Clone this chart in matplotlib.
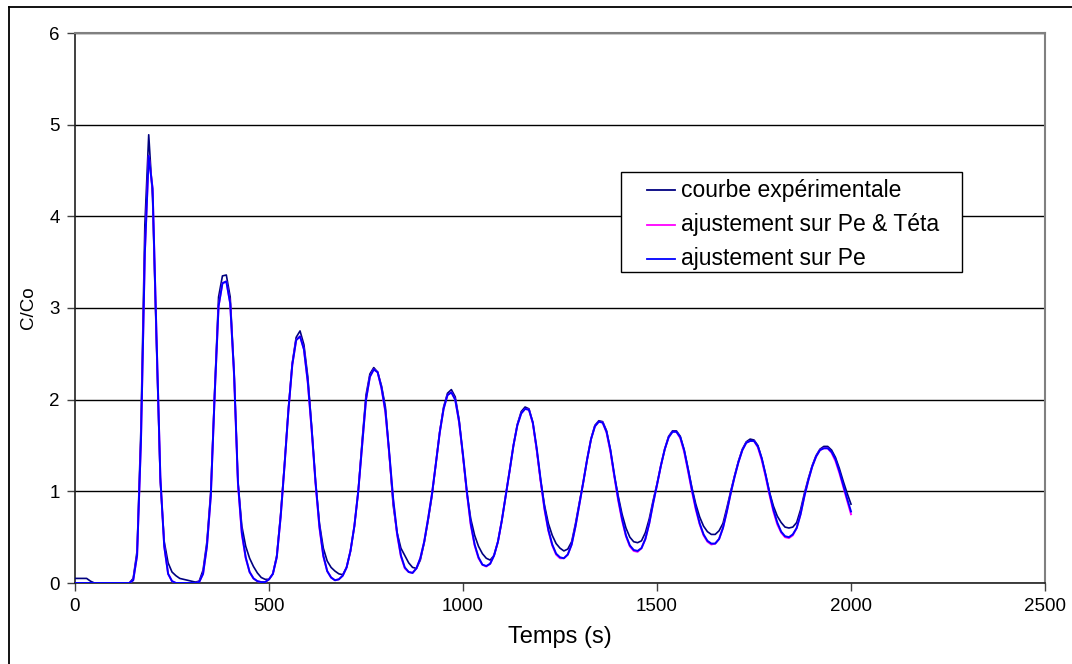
import matplotlib
matplotlib.use("Agg")
import matplotlib.pyplot as plt
from matplotlib.lines import Line2D
from matplotlib.patches import Rectangle

plt.rcParams['font.family'] = ['Liberation Sans', 'DejaVu Sans']

# sample times (s), one reading every 10 s
time_s = list(range(0, 2001, 10))

# C/Co, experimental curve (10 values per line = 100 s)
courbe_exp = [
    0.05, 0.05, 0.05, 0.05, 0.02, 0.0, 0.0, 0.0, 0.0, 0.0,
    0.0, 0.0, 0.0, 0.0, 0.0, 0.05, 0.35, 1.7, 3.9, 4.89,
    4.2, 2.6, 1.1, 0.45, 0.22, 0.12, 0.08, 0.05, 0.04, 0.03,
    0.02, 0.01, 0.02, 0.14, 0.45, 1.0, 2.1, 3.12, 3.35, 3.36,
    3.12, 2.3, 1.1, 0.62, 0.4, 0.27, 0.18, 0.11, 0.06, 0.04,
    0.04, 0.1, 0.3, 0.75, 1.3, 1.9, 2.4, 2.68, 2.75, 2.6,
    2.25, 1.7, 1.1, 0.65, 0.38, 0.24, 0.17, 0.13, 0.1, 0.09,
    0.17, 0.35, 0.62, 1.0, 1.55, 2.05, 2.28, 2.35, 2.3, 2.15,
    1.92, 1.4, 0.85, 0.55, 0.38, 0.3, 0.22, 0.17, 0.16, 0.25,
    0.44, 0.68, 0.95, 1.3, 1.65, 1.92, 2.07, 2.11, 2.03, 1.78,
    1.38, 0.98, 0.7, 0.52, 0.4, 0.32, 0.27, 0.25, 0.3, 0.45,
    0.68, 0.95, 1.22, 1.5, 1.73, 1.87, 1.92, 1.9, 1.75, 1.45,
    1.12, 0.85, 0.65, 0.52, 0.43, 0.38, 0.35, 0.37, 0.45, 0.65,
    0.88, 1.1, 1.35, 1.57, 1.72, 1.77, 1.76, 1.66, 1.45, 1.17,
    0.95, 0.75, 0.6, 0.5, 0.45, 0.44, 0.46, 0.55, 0.7, 0.9,
    1.08, 1.28, 1.46, 1.6, 1.66, 1.66, 1.6, 1.45, 1.25, 1.04,
    0.86, 0.72, 0.62, 0.56, 0.53, 0.53, 0.57, 0.65, 0.82, 1.0,
    1.17, 1.33, 1.46, 1.54, 1.57, 1.56, 1.5, 1.36, 1.18, 0.99,
    0.84, 0.73, 0.66, 0.61, 0.6, 0.61, 0.66, 0.8, 0.98, 1.14,
    1.28, 1.39, 1.46, 1.49, 1.49, 1.45, 1.37, 1.25, 1.11, 0.98,
    0.86,
]

# fit on Pe & Teta (magenta)
ajust_pe_teta = [
    0.0, 0.0, 0.0, 0.0, 0.0, 0.0, 0.0, 0.0, 0.0, 0.0,
    0.0, 0.0, 0.0, 0.0, 0.0, 0.03, 0.3, 1.55, 3.6, 4.66,
    4.3, 2.7, 1.15, 0.4, 0.1, 0.02, 0.0, 0.0, 0.0, 0.0,
    0.0, 0.0, 0.01, 0.1, 0.4, 0.95, 2.05, 3.02, 3.27, 3.29,
    3.05, 2.26, 1.08, 0.53, 0.27, 0.12, 0.05, 0.02, 0.01, 0.01,
    0.04, 0.1, 0.28, 0.72, 1.28, 1.88, 2.38, 2.65, 2.69, 2.55,
    2.18, 1.66, 1.08, 0.6, 0.29, 0.13, 0.06, 0.03, 0.04, 0.08,
    0.17, 0.35, 0.62, 1.0, 1.5, 2.0, 2.25, 2.33, 2.3, 2.12,
    1.86, 1.4, 0.9, 0.53, 0.29, 0.16, 0.12, 0.11, 0.16, 0.27,
    0.45, 0.7, 0.97, 1.3, 1.64, 1.9, 2.05, 2.08, 2.0, 1.75,
    1.38, 0.98, 0.63, 0.41, 0.27, 0.2, 0.18, 0.21, 0.3, 0.45,
    0.68, 0.95, 1.22, 1.5, 1.72, 1.85, 1.9, 1.89, 1.74, 1.45,
    1.11, 0.8, 0.57, 0.41, 0.31, 0.27, 0.27, 0.31, 0.42, 0.62,
    0.86, 1.1, 1.35, 1.57, 1.71, 1.76, 1.75, 1.64, 1.43, 1.16,
    0.9, 0.68, 0.51, 0.4, 0.35, 0.34, 0.38, 0.48, 0.65, 0.87,
    1.07, 1.28, 1.46, 1.59, 1.65, 1.65, 1.58, 1.43, 1.22, 1.0,
    0.8, 0.64, 0.52, 0.45, 0.42, 0.43, 0.48, 0.6, 0.78, 0.98,
    1.16, 1.32, 1.45, 1.53, 1.55, 1.55, 1.48, 1.34, 1.16, 0.96,
    0.78, 0.64, 0.55, 0.5, 0.49, 0.52, 0.6, 0.75, 0.95, 1.12,
    1.27, 1.38, 1.45, 1.47, 1.47, 1.42, 1.33, 1.2, 1.05, 0.9,
    0.75,
]

# fit on Pe only (blue)
ajust_pe = [
    0.0, 0.0, 0.0, 0.0, 0.0, 0.0, 0.0, 0.0, 0.0, 0.0,
    0.0, 0.0, 0.0, 0.0, 0.0, 0.03, 0.3, 1.55, 3.6, 4.66,
    4.3, 2.7, 1.15, 0.4, 0.1, 0.02, 0.0, 0.0, 0.0, 0.0,
    0.0, 0.0, 0.01, 0.1, 0.4, 0.95, 2.05, 3.02, 3.27, 3.29,
    3.05, 2.28, 1.1, 0.55, 0.28, 0.12, 0.05, 0.02, 0.01, 0.01,
    0.04, 0.1, 0.28, 0.72, 1.28, 1.88, 2.38, 2.65, 2.69, 2.55,
    2.2, 1.68, 1.1, 0.62, 0.3, 0.13, 0.06, 0.03, 0.04, 0.08,
    0.17, 0.35, 0.62, 1.0, 1.5, 2.0, 2.25, 2.33, 2.3, 2.13,
    1.88, 1.42, 0.92, 0.55, 0.3, 0.17, 0.12, 0.11, 0.16, 0.27,
    0.45, 0.7, 0.97, 1.3, 1.64, 1.9, 2.05, 2.08, 2.0, 1.76,
    1.4, 1.0, 0.65, 0.42, 0.28, 0.2, 0.185, 0.21, 0.3, 0.45,
    0.68, 0.95, 1.22, 1.5, 1.72, 1.85, 1.9, 1.89, 1.75, 1.47,
    1.13, 0.82, 0.58, 0.42, 0.32, 0.28, 0.27, 0.31, 0.42, 0.62,
    0.86, 1.1, 1.35, 1.57, 1.71, 1.76, 1.75, 1.65, 1.45, 1.18,
    0.92, 0.7, 0.52, 0.41, 0.36, 0.35, 0.38, 0.48, 0.65, 0.87,
    1.07, 1.28, 1.46, 1.59, 1.65, 1.65, 1.59, 1.45, 1.24, 1.02,
    0.82, 0.65, 0.53, 0.46, 0.43, 0.43, 0.48, 0.6, 0.78, 0.98,
    1.16, 1.32, 1.45, 1.53, 1.55, 1.55, 1.49, 1.36, 1.18, 0.98,
    0.8, 0.66, 0.56, 0.51, 0.5, 0.53, 0.6, 0.75, 0.95, 1.12,
    1.27, 1.38, 1.45, 1.47, 1.47, 1.43, 1.35, 1.22, 1.07, 0.92,
    0.78,
]

series_labels = ["courbe expérimentale", "ajustement sur Pe & Téta", "ajustement sur Pe"]
series_colors = ["#000080", "#FF00FF", "#0000FF"]
x_ticks = [0, 500, 1000, 1500, 2000, 2500]
y_ticks = [0, 1, 2, 3, 4, 5, 6]

W, H = 1072, 664
fig = plt.figure(figsize=(W / 100, H / 100), dpi=100)
ax = fig.add_axes([75 / W, (H - 583) / H, (1045 - 75) / W, (583 - 33) / H])

ax.plot(time_s, courbe_exp, color=series_colors[0], lw=1.2, zorder=3)
ax.plot(time_s, ajust_pe_teta, color=series_colors[1], lw=1.4, zorder=4)
ax.plot(time_s, ajust_pe, color=series_colors[2], lw=1.4, zorder=5)

ax.set_xlim(0, 2500)
ax.set_ylim(0, 6)
ax.set_xticks(x_ticks)
ax.set_yticks(y_ticks)
ax.tick_params(axis="both", direction="out", length=6, width=1, color="#404040",
               labelsize=13.5, pad=5)
ax.yaxis.grid(True, color="black", lw=1)
ax.set_axisbelow(True)
for s in ("top", "right"):
    ax.spines[s].set_color("#808080")
    ax.spines[s].set_linewidth(1.5)
for s in ("left", "bottom"):
    ax.spines[s].set_color("#202020")
    ax.spines[s].set_linewidth(1.2)

ax.set_xlabel("Temps (s)", fontsize=17, labelpad=8)
ax.set_ylabel("C/Co", fontsize=13.5, labelpad=9)


def fx(px):
    return px / W


def fy(py):
    return (H - py) / H


# legend box (drawn in figure pixels)
fig.add_artist(Rectangle((fx(621), fy(272)), fx(962) - fx(621), fy(172) - fy(272),
                         transform=fig.transFigure, facecolor="white",
                         edgecolor="black", lw=1.0, zorder=10))
row_y = [190, 225, 259]
for lab, col, yy in zip(series_labels, series_colors, row_y):
    fig.add_artist(Line2D([fx(647), fx(675)], [fy(yy), fy(yy)], color=col, lw=1.3,
                          transform=fig.transFigure, zorder=11))
    fig.text(fx(681), fy(yy), lab, fontsize=16.5, va="center", ha="left", zorder=11)

# outer chart border
fig.add_artist(Line2D([fx(8.5), fx(8.5)], [0, fy(7)], color="black", lw=1.3,
                      transform=fig.transFigure))
fig.add_artist(Line2D([fx(8.5), 1], [fy(7), fy(7)], color="black", lw=1.3,
                      transform=fig.transFigure))

fig.savefig("out.png", dpi=100)
